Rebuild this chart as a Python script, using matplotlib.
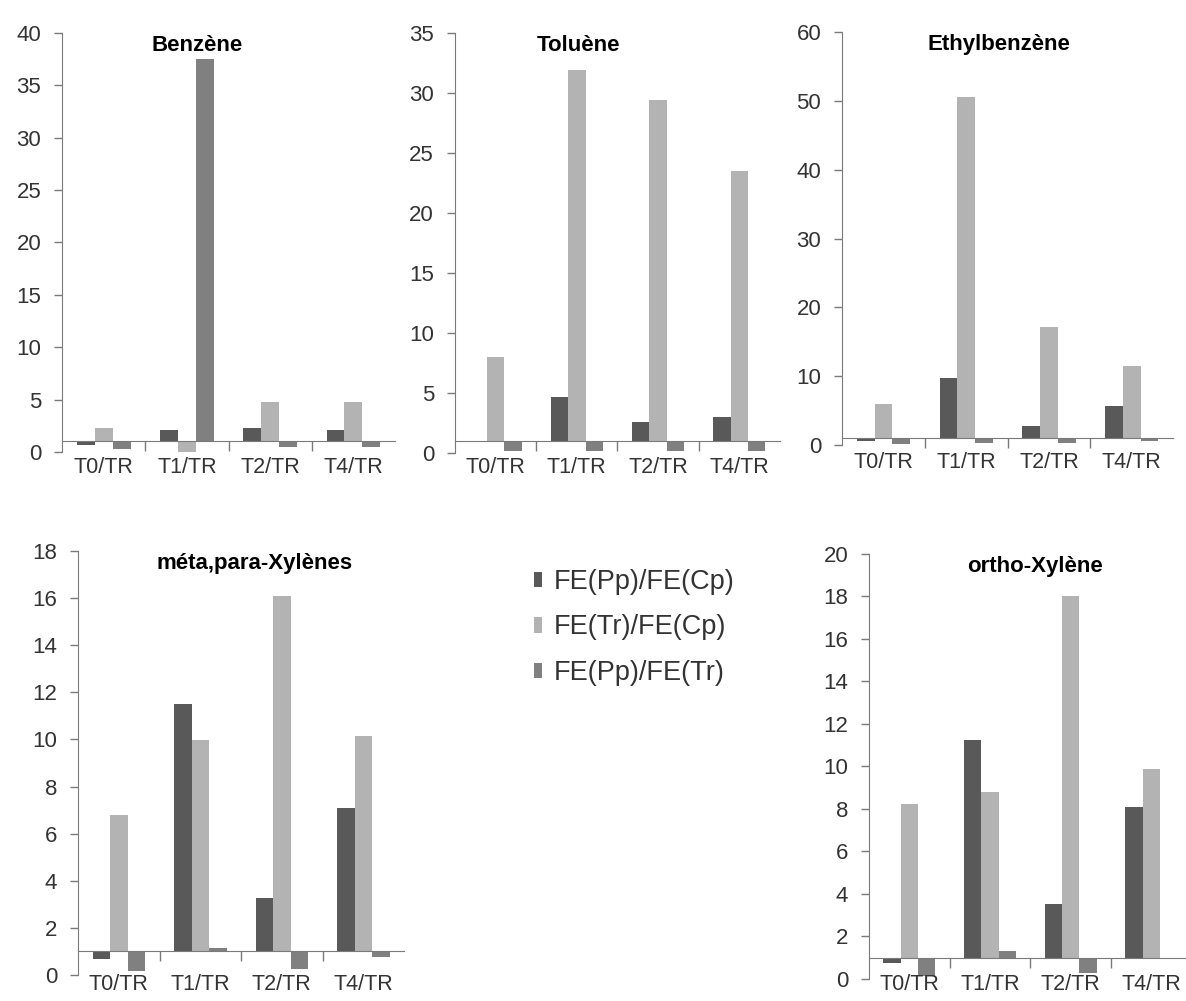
import numpy as np
import matplotlib.pyplot as plt
from matplotlib.patches import Patch

plt.rcParams['font.family'] = ['Liberation Sans', 'DejaVu Sans']

categories = ['T0/TR', 'T1/TR', 'T2/TR', 'T4/TR']
series_names = ['FE(Pp)/FE(Cp)', 'FE(Tr)/FE(Cp)', 'FE(Pp)/FE(Tr)']
series_colors = ['#595959', '#b3b3b3', '#808080']

# ratios (bars start from the baseline 1)
benzene_pp_cp = [0.7, 2.1, 2.3, 2.1]
benzene_tr_cp = [2.3, 0.0, 4.8, 4.8]
benzene_pp_tr = [0.25, 37.5, 0.5, 0.5]

toluene_pp_cp = [1.0, 4.7, 2.6, 3.0]
toluene_tr_cp = [8.0, 31.9, 29.4, 23.5]
toluene_pp_tr = [0.2, 0.2, 0.2, 0.2]

ethyl_pp_cp = [0.6, 9.8, 2.8, 5.7]
ethyl_tr_cp = [6.0, 50.5, 17.1, 11.5]
ethyl_pp_tr = [0.2, 0.3, 0.3, 0.6]

mpx_pp_cp = [0.66, 11.5, 3.28, 7.1]
mpx_tr_cp = [6.8, 9.97, 16.08, 10.14]
mpx_pp_tr = [0.17, 1.16, 0.25, 0.75]

ox_pp_cp = [0.74, 11.26, 3.53, 8.07]
ox_tr_cp = [8.24, 8.79, 18.04, 9.88]
ox_pp_tr = [0.16, 1.33, 0.27, 0.94]

panels = [
    # title, series, ymax, ystep, axes rect, title x, label pad
    ('Benzène', [benzene_pp_cp, benzene_tr_cp, benzene_pp_tr], 40, 5,
     [0.0523, 0.5485, 0.2808, 0.4186], 0.405, 11.5),
    ('Toluène', [toluene_pp_cp, toluene_tr_cp, toluene_pp_tr], 35, 5,
     [0.3836, 0.5475, 0.2740, 0.4196], 0.38, 11.5),
    ('Ethylbenzène', [ethyl_pp_cp, ethyl_tr_cp, ethyl_pp_tr], 60, 10,
     [0.7100, 0.5554, 0.2791, 0.4126], 0.475, 10),
    ('méta,para-Xylènes', [mpx_pp_cp, mpx_tr_cp, mpx_pp_tr], 18, 2,
     [0.0658, 0.0260, 0.2749, 0.4236], 0.54, 16),
    ('ortho-Xylène', [ox_pp_cp, ox_tr_cp, ox_pp_tr], 20, 2,
     [0.7327, 0.0220, 0.2720, 0.4246], 0.515, 12),
]

fig = plt.figure(figsize=(11.86, 10.01), dpi=100)

x = np.arange(len(categories))
width = 0.215
for title, series, ymax, ystep, rect, tx, pad in panels:
    ax = fig.add_axes(rect)
    for i, vals in enumerate(series):
        vals = np.array(vals)
        ax.bar(x + (i - 1) * width, vals - 1, width, bottom=1,
               color=series_colors[i], linewidth=0)
    ax.set_xlim(-0.5, 3.5)
    ax.set_ylim(0, ymax)
    ax.set_yticks(np.arange(0, ymax + 0.1, ystep))
    ax.tick_params(axis='y', direction='out', length=6, width=1,
                   color='#7a7a7a', labelsize=16, labelcolor='#333333', pad=9)
    for s in ['top', 'right']:
        ax.spines[s].set_visible(False)
    ax.spines['left'].set_color('#7a7a7a')
    ax.spines['bottom'].set_position(('data', 1))
    ax.spines['bottom'].set_color('#7a7a7a')
    # separators between categories as major ticks, labels as minor ticks
    ax.set_xticks([0.5, 1.5, 2.5])
    ax.set_xticklabels([])
    ax.set_xticks(x, minor=True)
    ax.set_xticklabels(categories, minor=True)
    ax.tick_params(axis='x', which='major', direction='out', length=7,
                   width=1, color='#7a7a7a')
    ax.tick_params(axis='x', which='minor', length=0, labelsize=15.5,
                   labelcolor='#333333', pad=pad)
    ax.text(tx, 0.97, title, transform=ax.transAxes, ha='center', va='center',
            fontsize=16, fontweight='bold')

handles = [Patch(facecolor=c, edgecolor='none') for c in series_colors]
fig.legend(handles, series_names, loc='upper left',
           bbox_to_anchor=(0.430, 0.456), frameon=False, fontsize=19.5,
           handlelength=0.3, handleheight=0.5, handletextpad=0.4,
           labelspacing=0.72, labelcolor='#333333')

fig.savefig('out.png', dpi=100)
